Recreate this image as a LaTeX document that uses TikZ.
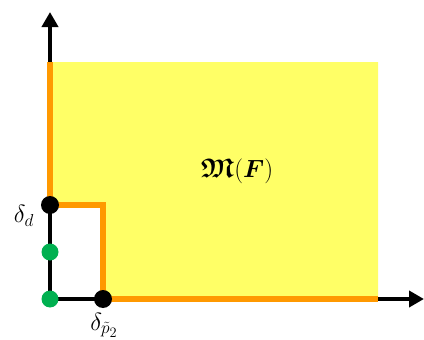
\documentclass[tikz,border=0pt]{standalone}
\usepackage{amsmath,amssymb,bm}
\usetikzlibrary{arrows.meta}
\definecolor{yel}{HTML}{FFFF66}
\definecolor{org}{HTML}{FF9900}
\definecolor{grn}{HTML}{00B050}
\begin{document}
\begin{tikzpicture}[x=1pt,y=-1pt,
  axis/.style={line width=4pt,-{Triangle[length=15pt,width=16pt]}},
  bound/.style={org,line width=5.5pt,line join=miter},
  bdot/.style={circle,fill=black,inner sep=0pt,minimum size=18pt},
  gdot/.style={circle,fill=grn,inner sep=0pt,minimum size=17pt},
  lbl/.style={font=\fontsize{27}{32}\selectfont}]
\useasboundingbox (0,0) rectangle (424,340);
\fill[yel] (50,62) -- (378,62) -- (378,299) -- (103,299) -- (103,205) -- (50,205) -- cycle;
\coordinate (o) at (50,299);
\coordinate (ytop) at (50,12);
\coordinate (xend) at (424,299);
\draw[axis] (o) -- (ytop);
\draw[axis] (o) -- (xend);
\draw[bound] (50,62) -- (50,205) -- (103,205) -- (103,299) -- (378,299);
\node[gdot] (g1) at (50,252) {};
\node[gdot] (g0) at (o) {};
\node[bdot] (d) at (50,205) {};
\node[bdot] (p) at (103,299) {};
\node[lbl] (ld) at (24,216) {$\delta_d$};
\node[lbl] (lp) at (104,325) {$\delta_{\tilde{p}_2}$};
\node[lbl] (m) at (237,171) {$\bm{\mathfrak{M}}(\bm{F})$};
\end{tikzpicture}
\end{document}
